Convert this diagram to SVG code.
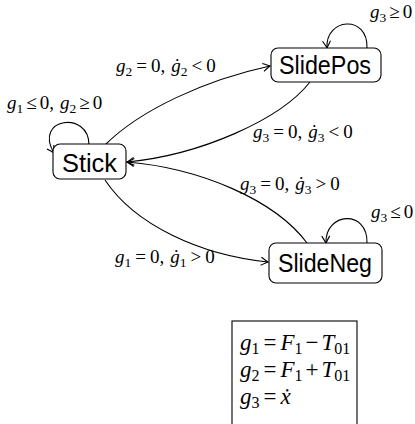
<svg xmlns="http://www.w3.org/2000/svg" width="415" height="424" viewBox="0 0 415 424">
<style>
.node rect{fill:#fff;stroke:#000;stroke-width:1.1}
.node text{font-family:"Liberation Sans","DejaVu Sans",sans-serif;font-size:25px;fill:#000}
.edge{fill:none;stroke:#000;stroke-width:1.1;marker-end:url(#arr)}
.lbl{font-family:"Liberation Serif","DejaVu Serif",serif;font-size:19px;fill:#000}
.i{font-style:italic}
.s{font-size:13.5px}
.eq{font-family:"Liberation Serif","DejaVu Serif",serif;font-size:23px;fill:#000}
.eq .s{font-size:16px}
</style>
<defs>
<marker id="arr" viewBox="-8 -5 10 10" refX="0" refY="0" markerWidth="10" markerHeight="10" markerUnits="userSpaceOnUse" orient="auto">
<path d="M-7,-4 Q-2,-1 0,0 Q-2,1 -7,4" fill="none" stroke="#000" stroke-width="1.1"/>
</marker>
</defs>
<g id="connectors">
<path class="edge" d="M105,145 C140,110 205,80 270,66"/>
<path class="edge" d="M310,82 C280,120 200,155 127,162"/>
<path class="edge" d="M307,243 C275,200 200,168 127,162"/>
<path class="edge" d="M105,180 C135,225 200,255 268,262"/>
<path class="edge" d="M89,145 C89,110 33,118 54,153"/>
<path class="edge" d="M367,48 C368,14 325,18 327,48"/>
<path class="edge" d="M367,243 C368,209 325,212 326,243"/>
</g>
<g id="labels">
<text class="lbl" x="370" y="18"><tspan class="i">g</tspan><tspan class="s" dy="4">3</tspan><tspan dy="-4" dx="3">≥</tspan><tspan dx="3">0</tspan></text>
<text class="lbl" x="7" y="109"><tspan class="i">g</tspan><tspan class="s" dy="4">1</tspan><tspan dy="-4" dx="3">≤</tspan><tspan dx="3">0,</tspan><tspan class="i" dx="6">g</tspan><tspan class="s" dy="4">2</tspan><tspan dy="-4" dx="3">≥</tspan><tspan dx="3">0</tspan></text>
<text class="lbl" x="116" y="72"><tspan class="i">g</tspan><tspan class="s" dy="4">2</tspan><tspan dy="-4" dx="4">=</tspan><tspan dx="4">0,</tspan><tspan class="i" dx="6">ġ</tspan><tspan class="s" dy="4">2</tspan><tspan dy="-4" dx="4">&lt;</tspan><tspan dx="4">0</tspan></text>
<text class="lbl" x="253" y="138"><tspan class="i">g</tspan><tspan class="s" dy="4">3</tspan><tspan dy="-4" dx="4">=</tspan><tspan dx="4">0,</tspan><tspan class="i" dx="6">ġ</tspan><tspan class="s" dy="4">3</tspan><tspan dy="-4" dx="4">&lt;</tspan><tspan dx="4">0</tspan></text>
<text class="lbl" x="240" y="190"><tspan class="i">g</tspan><tspan class="s" dy="4">3</tspan><tspan dy="-4" dx="4">=</tspan><tspan dx="4">0,</tspan><tspan class="i" dx="6">ġ</tspan><tspan class="s" dy="4">3</tspan><tspan dy="-4" dx="4">&gt;</tspan><tspan dx="4">0</tspan></text>
<text class="lbl" x="371" y="218"><tspan class="i">g</tspan><tspan class="s" dy="4">3</tspan><tspan dy="-4" dx="3">≤</tspan><tspan dx="3">0</tspan></text>
<text class="lbl" x="115" y="263"><tspan class="i">g</tspan><tspan class="s" dy="4">1</tspan><tspan dy="-4" dx="4">=</tspan><tspan dx="4">0,</tspan><tspan class="i" dx="6">ġ</tspan><tspan class="s" dy="4">1</tspan><tspan dy="-4" dx="4">&gt;</tspan><tspan dx="4">0</tspan></text>
</g>
<g id="node-stick" class="node">
<rect x="53" y="144" width="73" height="35" rx="7"/>
<text x="62" y="172" textLength="55" lengthAdjust="spacingAndGlyphs">Stick</text>
</g>
<g id="node-slidepos" class="node">
<rect x="271" y="48" width="110" height="34" rx="7"/>
<text x="279" y="74" textLength="92" lengthAdjust="spacingAndGlyphs">SlidePos</text>
</g>
<g id="node-slideneg" class="node">
<rect x="269" y="243" width="113" height="40" rx="7"/>
<text x="278" y="272" textLength="94" lengthAdjust="spacingAndGlyphs">SlideNeg</text>
</g>
<g id="equations">
<rect x="232" y="321" width="125" height="110" fill="none" stroke="#000" stroke-width="1.1"/>
<text class="eq" x="240" y="350"><tspan class="i">g</tspan><tspan class="s" dy="4">1</tspan><tspan dy="-4" dx="4">=</tspan><tspan class="i" dx="4">F</tspan><tspan class="s" dy="4">1</tspan><tspan dy="-4" dx="3">−</tspan><tspan class="i" dx="3">T</tspan><tspan class="s" dy="4">01</tspan></text>
<text class="eq" x="240" y="377"><tspan class="i">g</tspan><tspan class="s" dy="4">2</tspan><tspan dy="-4" dx="4">=</tspan><tspan class="i" dx="4">F</tspan><tspan class="s" dy="4">1</tspan><tspan dy="-4" dx="3">+</tspan><tspan class="i" dx="3">T</tspan><tspan class="s" dy="4">01</tspan></text>
<text class="eq" x="240" y="404"><tspan class="i">g</tspan><tspan class="s" dy="4">3</tspan><tspan dy="-4" dx="4">=</tspan><tspan class="i" dx="4">ẋ</tspan></text>
</g>
</svg>
